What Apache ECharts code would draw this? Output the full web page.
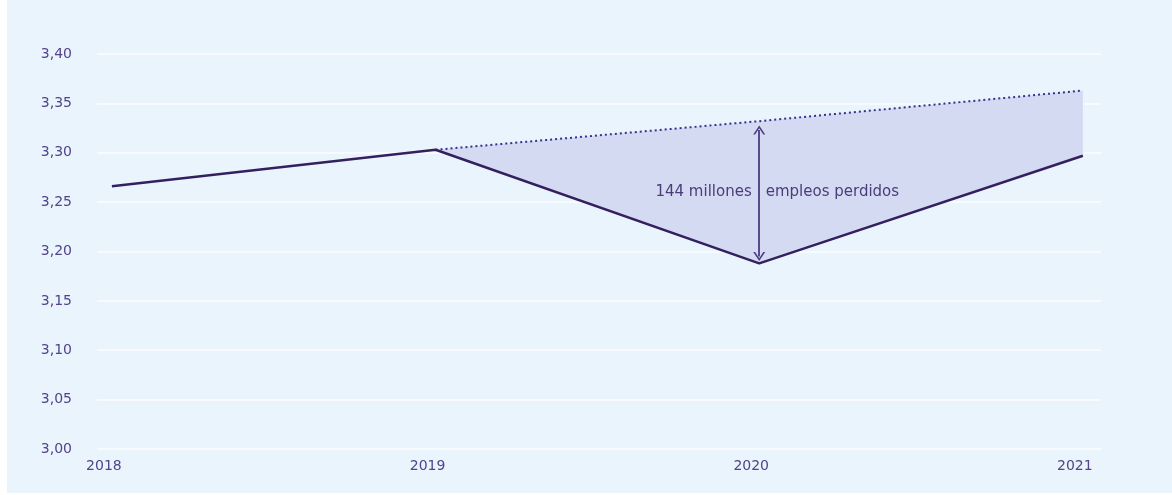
<!DOCTYPE html>
<html>
<head>
<meta charset="utf-8">
<style>
  html, body { margin: 0; padding: 0; background: #ffffff; }
  #chart { width: 1172px; height: 495px; }
</style>
<script src="https://cdn.jsdelivr.net/npm/echarts@6/dist/echarts.min.js"></script>
</head>
<body>
<div id="chart"></div>
<script>
// Global employment, billions of people
const years = [2018, 2019, 2020, 2021];
const actual = [3.266, 3.303, 3.188, 3.297];
// Pre-crisis trend, starting from 2019
const projected = [null, 3.303, 3.332, 3.363];
const yTicks = [3.00, 3.05, 3.10, 3.15, 3.20, 3.25, 3.30, 3.35, 3.40];
const gapYear = 2020;
const gapLabelLeft = '144 millones';
const gapLabelRight = 'empleos perdidos';

const gapIdx = years.indexOf(gapYear);
const gapLow = actual[gapIdx];
const gapHigh = projected[gapIdx];
const gapMid = (gapLow + gapHigh) / 2;

const textColor = '#52438a';
const font = '"DejaVu Sans", "Noto Sans", sans-serif';
const chevron = 'path://M0,10 L5,0 L10,10 L8.4,10 L5,3 L1.6,10 Z';

// Polygon between the trend line (top) and actual employment (bottom)
function renderGap(params, api) {
  const idx = years.map((y, i) => i).filter(i => projected[i] != null);
  const top = idx.map(i => api.coord([years[i], projected[i]]));
  const bottom = idx.slice().reverse().map(i => api.coord([years[i], actual[i]]));
  return {
    type: 'polygon',
    shape: { points: top.concat(bottom) },
    style: { fill: '#d5daf3' },
    silent: true
  };
}

const chart = echarts.init(document.getElementById('chart'), null, { renderer: 'canvas' });
chart.setOption({
  animation: false,
  backgroundColor: 'transparent',
  textStyle: { fontFamily: font },
  graphic: [{
    type: 'rect', z: -10, silent: true,
    shape: { x: 7, y: 0, width: 1165, height: 493 },
    style: { fill: '#eaf4fd' }
  }],
  grid: { left: 97, right: 71, top: 54, bottom: 46 },
  xAxis: {
    type: 'value',
    min: 2017.954,
    max: 2021.056,
    axisLine: { show: false },
    axisTick: { show: false },
    splitLine: { show: false },
    axisLabel: {
      customValues: years,
      color: textColor, fontSize: 14, fontFamily: font, margin: 10,
      padding: [0, 16, 0, 0],
      formatter: v => String(v)
    }
  },
  yAxis: {
    type: 'value',
    min: yTicks[0],
    max: yTicks[yTicks.length - 1],
    interval: 0.05,
    axisLine: { show: false },
    axisTick: { show: false },
    axisLabel: {
      color: textColor, fontSize: 14, fontFamily: font, margin: 25,
      formatter: v => v.toFixed(2).replace('.', ',')
    },
    splitLine: { lineStyle: { color: '#f7fbff', width: 2 } }
  },
  series: [
    {
      type: 'custom',
      renderItem: renderGap,
      data: [0],
      silent: true,
      z: 1
    },
    {
      name: 'Tendencia', type: 'line',
      data: years.map((y, i) => [y, projected[i]]),
      symbol: 'none',
      lineStyle: { color: '#33338f', width: 2, type: [2, 3] },
      z: 3
    },
    {
      name: 'Empleo', type: 'line',
      data: years.map((y, i) => [y, actual[i]]),
      symbol: 'none',
      lineStyle: { color: '#35205f', width: 2.5 },
      z: 4,
      markLine: {
        silent: true,
        symbol: [chevron, chevron],
        symbolSize: [12, 9],
        symbolOffset: 0,
        lineStyle: { color: '#4e3a80', width: 1.8, type: 'solid' },
        label: { show: false },
        data: [[
          { coord: [gapYear, gapLow + 0.007] },
          { coord: [gapYear, gapHigh - 0.009] }
        ]]
      },
      markPoint: {
        silent: true,
        symbol: 'circle', symbolSize: 1,
        itemStyle: { color: 'transparent' },
        data: [
          {
            coord: [gapYear, gapMid],
            label: {
              show: true, position: 'left', distance: 7,
              formatter: gapLabelLeft, color: '#4a3c78', fontSize: 15, fontFamily: font
            }
          },
          {
            coord: [gapYear, gapMid],
            label: {
              show: true, position: 'right', distance: 6,
              formatter: gapLabelRight, color: '#4a3c78', fontSize: 15, fontFamily: font
            }
          }
        ]
      }
    }
  ]
});
</script>
</body>
</html>
